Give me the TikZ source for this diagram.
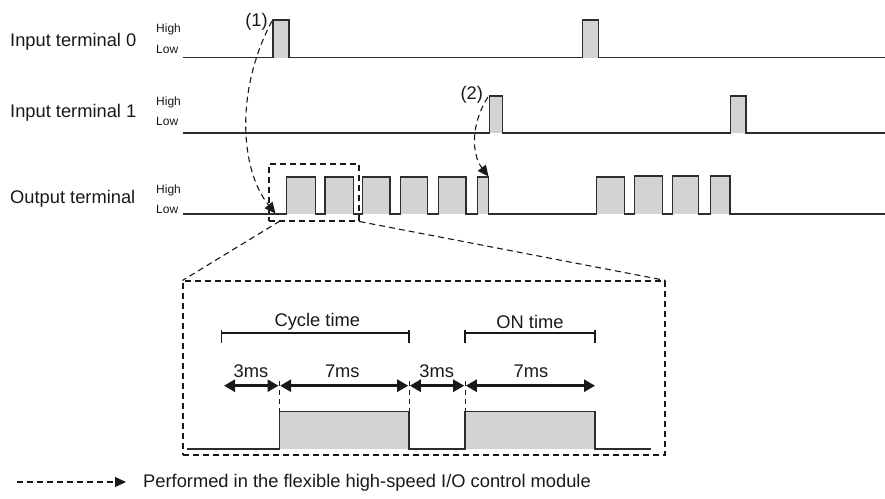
\documentclass[tikz,border=0pt]{standalone}
\usepackage{fontspec}
\setmainfont{Liberation Sans}
\usetikzlibrary{arrows.meta}
\definecolor{wavecol}{RGB}{45,45,45}
\definecolor{pulsefill}{RGB}{211,211,213}
\begin{document}
\begin{tikzpicture}[x=1pt,y=-1pt,
  font=\fontsize{18.3}{22}\selectfont,
  wave/.style={draw=wavecol,line width=1.4pt,line join=miter},
  pfill/.style={fill=pulsefill},
  lbl/.style={anchor=west,inner sep=0pt,text=black!90},
  hl/.style={anchor=west,inner sep=0pt,font=\fontsize{12}{14}\selectfont,text=black!90},
  ctr/.style={inner sep=0pt,text=black!90},
  flow/.style={draw=black!90,line width=1.1pt,dash pattern=on 6pt off 4pt,-{Triangle[length=11pt,width=10pt]}},
  zoomline/.style={draw=black!90,line width=1.1pt,dash pattern=on 6pt off 4pt},
  guide/.style={draw=black!90,line width=1pt,dash pattern=on 5pt off 4pt},
  dimarrow/.style={draw=black!90,line width=2.6pt,{Triangle[length=11pt,width=12pt]}-{Triangle[length=11pt,width=12pt]},shorten <=0.8pt,shorten >=0.8pt},
  bracket/.style={draw=black!90,line width=1.3pt}
]
\useasboundingbox (0,0) rectangle (885,498);

% ---------- labels ----------
\node[lbl] (in0) at (10,42) {Input terminal 0};
\node[lbl] (in1) at (10,113) {Input terminal 1};
\node[lbl] (out) at (10,199) {Output terminal};
\node[hl] (h0) at (156,29.3) {High};
\node[hl] (l0) at (156,49) {Low};
\node[hl] (h1) at (156,102.7) {High};
\node[hl] (l1) at (156,121.7) {Low};
\node[hl] (h2) at (156,190) {High};
\node[hl] (l2) at (156,209.3) {Low};

% ---------- input terminal 0 ----------
\fill[pfill] (273,20) rectangle (289,57.5);
\fill[pfill] (582.7,20) rectangle (598.7,57.5);
\draw[wave] (183,57.5) -- (273,57.5) -- (273,20) -- (289,20) -- (289,57.5)
  -- (582.7,57.5) -- (582.7,20) -- (598.7,20) -- (598.7,57.5) -- (885,57.5);

% ---------- input terminal 1 ----------
\fill[pfill] (489.3,96) rectangle (502.7,133);
\fill[pfill] (730.7,96) rectangle (746,133);
\draw[wave] (183,133) -- (489.3,133) -- (489.3,96) -- (502.7,96) -- (502.7,133)
  -- (730.7,133) -- (730.7,96) -- (746,96) -- (746,133) -- (885,133);

% ---------- output terminal ----------
\foreach \a/\b/\t in {286.7/315.7/177,325/353.3/177,362.7/390/177,400.7/427.7/177,438.3/466/177,477.3/488.7/177,596.7/624.3/177,634.3/662.7/176,672.3/698.3/176,710.3/730/176}
  {\fill[pfill] (\a,\t) rectangle (\b,214);}
\draw[wave] (183,214) -- (286.7,214) -- (286.7,177) -- (315.7,177) -- (315.7,214)
  -- (325,214) -- (325,177) -- (353.3,177) -- (353.3,214)
  -- (362.7,214) -- (362.7,177) -- (390,177) -- (390,214)
  -- (400.7,214) -- (400.7,177) -- (427.7,177) -- (427.7,214)
  -- (438.3,214) -- (438.3,177) -- (466,177) -- (466,214)
  -- (477.3,214) -- (477.3,177) -- (488.7,177) -- (488.7,214)
  -- (596.7,214) -- (596.7,177) -- (624.3,177) -- (624.3,214)
  -- (634.3,214) -- (634.3,176) -- (662.7,176) -- (662.7,214)
  -- (672.3,214) -- (672.3,176) -- (698.3,176) -- (698.3,214)
  -- (710.3,214) -- (710.3,176) -- (730,176) -- (730,214) -- (885,214);

% ---------- flow arrows ----------
\node[ctr] (n1) at (256.5,21.5) {(1)};
\node[ctr] (n2) at (471.7,94.5) {(2)};
\coordinate (s1) at (272,21);
\coordinate (e1) at (275.5,213.5);
\coordinate (s2) at (488,97);
\coordinate (e2) at (488.5,176.5);
\draw[flow] (s1) .. controls (235,90) and (240,170) .. (e1);
\draw[flow] (s2) .. controls (470,125) and (472,155) .. (e2);

% ---------- zoom frame ----------
\node[zoomline,inner sep=0pt,minimum width=90pt,minimum height=57pt] (small) at (314,192.5) {};
\node[zoomline,inner sep=0pt,minimum width=482pt,minimum height=174pt] (big) at (424,368) {};
\coordinate (sbl) at (280,221);
\draw[zoomline] (sbl) -- (big.north west);
\draw[zoomline] (small.south east) -- (big.north east);

% ---------- detail waveform ----------
\fill[pfill] (279.3,411.7) rectangle (409,449);
\fill[pfill] (465,411.7) rectangle (595,449);
\draw[wave] (186.7,449) -- (279.3,449) -- (279.3,411.7) -- (409,411.7) -- (409,449)
  -- (465,449) -- (465,411.7) -- (595,411.7) -- (595,449) -- (651,449);

\coordinate (t0) at (224,385.7);
\coordinate (t1) at (279.3,385.7);
\coordinate (t2) at (409,385.7);
\coordinate (t3) at (465,385.7);
\coordinate (t4) at (595,385.7);
\draw[guide] (279.3,381) -- (279.3,411.7);
\draw[guide] (409,381) -- (409,411.7);
\draw[guide] (465,381) -- (465,411.7);

\draw[dimarrow,shorten <=0pt] (t0) -- (t1);
\draw[dimarrow] (t1) -- (t2);
\draw[dimarrow] (t2) -- (t3);
\draw[dimarrow,shorten >=0pt] (t3) -- (t4);

\node[ctr] (d1) at (251,371.5) {3ms};
\node[ctr] (d2) at (342.3,371.5) {7ms};
\node[ctr] (d3) at (436.7,371.5) {3ms};
\node[ctr] (d4) at (531,371.5) {7ms};

% brackets
\draw[bracket] (221.7,330) -- (221.7,343) (221.7,333) -- (409,333) (409,330) -- (409,343);
\draw[bracket] (465,330) -- (465,343) (465,333) -- (595,333) (595,330) -- (595,343);
\node[ctr] (cyc) at (317.3,321.7) {Cycle time};
\node[ctr] (ont) at (530,321.7) {ON time};

% ---------- legend ----------
\coordinate (ls) at (17,482);
\coordinate (le) at (126,482);
\draw[flow] (ls) -- (le);
\node[lbl] (leg) at (143,483) {Performed in the flexible high-speed I/O control module};
\end{tikzpicture}
\end{document}
